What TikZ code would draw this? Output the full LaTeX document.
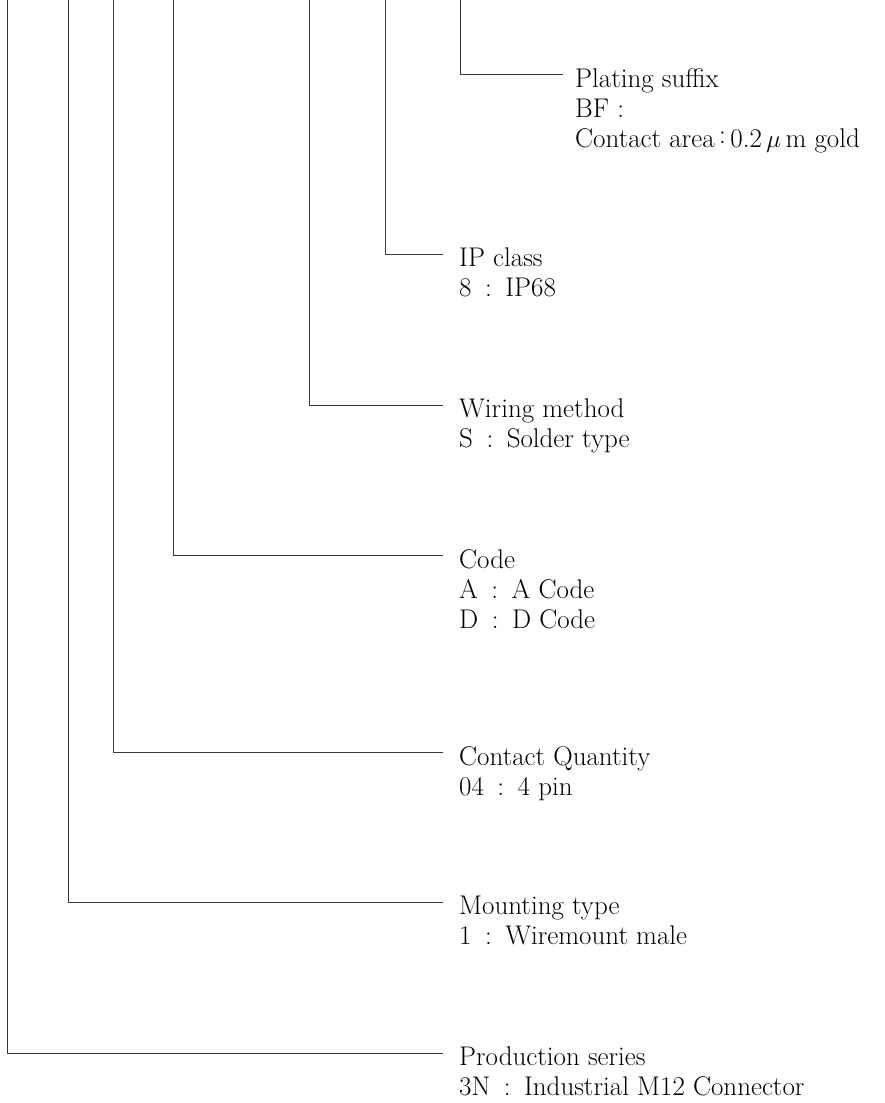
\documentclass[tikz,border=0pt]{standalone}
\usepackage{fontspec}
\usepackage{tikz}
\usetikzlibrary{positioning,calc}
\definecolor{leadgrey}{HTML}{3A3A3A}

\begin{document}
\begin{tikzpicture}[
  x=1pt, y=-1pt,
  leader/.style={draw=leadgrey, line width=0.9pt},
  % text sits 16pt right of where its leader stops
  callout/.style={anchor=north west, align=left, inner xsep=16pt,
                  inner ysep=0pt, font=\fontsize{27}{30}\selectfont}
]
\useasboundingbox (0,0) rectangle (885,1103);

% ══ labels ═════════════════════════════════════════════════════════════════
\node[callout, inner xsep=12pt] (plating) at (563,68)
  {Plating suffix\\BF :\\Contact area\,\raisebox{.3ex}{:}\,0.2\,$\mu$\,m gold};
\node[callout] (ipclass) at (443,248)
  {IP class\\8\enspace:\enspace IP68};
\node[callout] (wiring) at (443,399)
  {Wiring method\\S\enspace:\enspace Solder type};
\node[callout] (code) at (443,549)
  {Code\\A\enspace:\enspace A Code\\D\enspace:\enspace D Code};
\node[callout] (contacts) at (443,746)
  {Contact Quantity\\04\enspace:\enspace 4 pin};
\node[callout] (mounting) at (443,896)
  {Mounting type\\1\enspace:\enspace Wiremount male};
\node[callout] (series) at (443,1047)
  {Production series\\3N\enspace:\enspace Industrial M12 Connector};

% ══ leaders — each drops from the top edge, then turns right ══════════════
\foreach \lx/\lbl in {460/plating, 385/ipclass, 309/wiring, 173/code,
                      113/contacts, 68/mounting, 7/series}{
  \coordinate (\lbl-top) at (\lx,0);
  \draw[leader] (\lbl-top) |- ([yshift=-6pt]\lbl.north west);
}

\end{tikzpicture}
\end{document}
